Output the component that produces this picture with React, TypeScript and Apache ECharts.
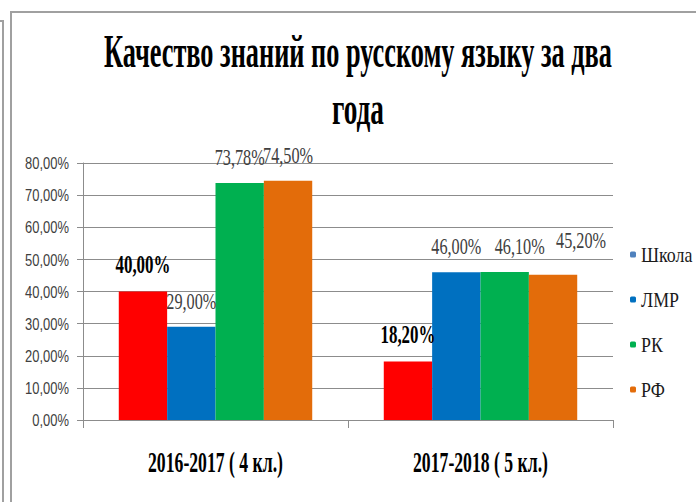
import React, { useEffect, useRef } from 'react';
import * as echarts from 'echarts';

const titleText = 'Качество знаний по русскому языку за два\nгода';
const categories = ['2016-2017 ( 4 кл.)', '2017-2018 ( 5 кл.)'];
const seriesNames = ['Школа', 'ЛМР', 'РК', 'РФ'];
const schoolValues = [0.4, 0.182];
const lmrValues = [0.29, 0.46];
const rkValues = [0.7378, 0.461];
const rfValues = [0.745, 0.452];
const yMin = 0;
const yMax = 0.8;
const yStep = 0.1;

const barColors = ['#FF0000', '#0070C0', '#00B050', '#E36C0A'];
const legendColors = ['#4F81BD', '#0070C0', '#00B050', '#E36C0A'];

const SERIF = '"Liberation Serif", "DejaVu Serif", serif';
const SANS = '"Liberation Sans", "DejaVu Sans", sans-serif';

const pct = (v: number) => (v * 100).toFixed(2).replace('.', ',') + '%';

// target widths (px) of texts in the reference, which uses very narrow type
const titleLines = titleText.split('\n');
const TITLE_W = [508, 52];
const CAT_W = 135;
const LEGEND_REF_W = 52; // width of 'Школа'
const DATA_REF_W = 50; // width of a regular label such as '73,78%'
const BOLD_REF_W = 55; // width of a bold label such as '40,00%'
const TICK_REF_W = 44; // width of '80,00%'

function condense(root: HTMLElement) {
  const els = Array.from(root.querySelectorAll('text')) as SVGTextElement[];
  const width = (el: SVGTextElement) => {
    try {
      return el.getBBox().width || 1;
    } catch (e) {
      return 1;
    }
  };
  const find = (pred: (el: SVGTextElement) => boolean) => els.find(pred);
  const isSans = (el: Element) => (el.getAttribute('style') || '').includes('Sans');
  const isBold = (el: Element) => (el.getAttribute('style') || '').includes('bold');
  const legendRef = find((e) => (e.textContent || '').trim() === 'Школа');
  const sLegend = legendRef ? LEGEND_REF_W / width(legendRef) : 1;
  const tickRef = find((e) => (e.textContent || '').trim() === '80,00%' && isSans(e));
  const sTick = tickRef ? TICK_REF_W / width(tickRef) : 1;
  const dataRef = find((e) => (e.textContent || '').trim() === '73,78%');
  const sData = dataRef ? DATA_REF_W / width(dataRef) : 1;
  const boldRef = find((e) => (e.textContent || '').trim() === '40,00%' && !isSans(e) && isBold(e));
  const sBold = boldRef ? BOLD_REF_W / width(boldRef) : 1;

  els.forEach((el) => {
    const txt = (el.textContent || '').trim();
    let s = 1;
    const ti = titleLines.indexOf(txt);
    if (ti >= 0) s = TITLE_W[ti] / width(el);
    else if (categories.includes(txt)) s = CAT_W / width(el);
    else if (seriesNames.includes(txt)) s = sLegend;
    else if (/%$/.test(txt)) s = isSans(el) ? sTick : isBold(el) ? sBold : sData;
    if (s === 1) return;
    const cur = el.getAttribute('transform') || '';
    if (el.getAttribute('data-done') === cur && cur !== '') return;
    const ox = parseFloat(el.getAttribute('x') || '0') || 0;
    const nt = `${cur} translate(${ox} 0) scale(${s} 1) translate(${-ox} 0)`.trim();
    el.setAttribute('transform', nt);
    el.setAttribute('data-done', nt);
  });
}

export default function App() {
  const ref = useRef<HTMLDivElement>(null);
  useEffect(() => {
    if (!ref.current) return;
    const chart = echarts.init(ref.current, null, { renderer: 'svg' });
    const values = [schoolValues, lmrValues, rkValues, rfValues];
    const labelOffsets: Record<string, number[]> = { '2-1': [15, 0], '3-1': [28, -9] };
    const series = seriesNames.map((name, si) => ({
      name,
      type: 'bar',
      barGap: '0%',
      barCategoryGap: '27%',
      itemStyle: { color: legendColors[si] },
      label: {
        show: true,
        position: 'top',
        distance: 14,
        formatter: (p: any) => pct(p.value),
        fontFamily: SERIF,
        fontSize: si === 0 ? 26 : 24,
        fontWeight: si === 0 ? 'bold' : 'normal',
        color: si === 0 ? '#000000' : '#404040',
      },
      data: values[si].map((v, i) => {
        const off = labelOffsets[`${si}-${i}`];
        return {
          value: v,
          itemStyle: { color: barColors[si] },
          ...(off ? { label: { offset: off } } : {}),
        };
      }),
    }));

    chart.setOption({
      animation: false,
      backgroundColor: '#ffffff',
      textStyle: { fontFamily: SERIF },
      title: {
        text: titleText,
        left: 358,
        top: 24,
        textAlign: 'center',
        padding: 0,
        textStyle: {
          fontFamily: SERIF,
          fontWeight: 'bold',
          fontSize: 46,
          lineHeight: 56,
          color: '#000000',
        },
      },
      legend: {
        orient: 'vertical',
        left: 630,
        top: 244,
        itemWidth: 6,
        itemHeight: 6,
        itemGap: 24,
        padding: 0,
        selectedMode: false,
        data: seriesNames.map((n, i) => ({ name: n, itemStyle: { color: legendColors[i] } })),
        textStyle: {
          fontFamily: SERIF,
          fontSize: 21,
          color: '#1a1a1a',
          lineHeight: 20,
        },
      },
      grid: { left: 83, right: 83, top: 163, bottom: 82, containLabel: false },
      xAxis: {
        type: 'category',
        data: categories,
        axisLine: { show: true, lineStyle: { color: '#8c8c8c', width: 1 } },
        axisTick: { show: true, length: 8, lineStyle: { color: '#8c8c8c' } },
        axisLabel: {
          interval: 0,
          hideOverlap: false,
          fontFamily: SERIF,
          fontWeight: 'bold',
          fontSize: 29,
          color: '#000000',
          margin: 28,
        },
      },
      yAxis: {
        type: 'value',
        min: yMin,
        max: yMax,
        interval: yStep,
        axisLine: { show: true, lineStyle: { color: '#8c8c8c', width: 1 } },
        axisTick: { show: true, length: 6, lineStyle: { color: '#8c8c8c' } },
        splitLine: { show: true, lineStyle: { color: '#8c8c8c', width: 1 } },
        axisLabel: {
          fontFamily: SANS,
          fontSize: 17,
          color: '#404040',
          margin: 14,
          formatter: (v: number) => pct(v),
        },
      },
      graphic: [
        {
          type: 'rect',
          silent: true,
          shape: { x: 11, y: 12, width: 720, height: 520 },
          style: { fill: 'none', stroke: '#a0a0a0', lineWidth: 2 },
        },
        {
          type: 'polyline',
          silent: true,
          shape: { points: [[0, 21], [3, 21], [3, 510]] },
          style: { fill: 'none', stroke: '#a0a0a0', lineWidth: 2 },
        },
      ],
      series,
    });
    const root = ref.current;
    condense(root);
    const onFinished = () => condense(root);
    chart.on('finished', onFinished);
    return () => {
      chart.off('finished', onFinished);
      chart.dispose();
    };
  }, []);
  return (
    <div
      ref={ref}
      style={{ position: 'fixed', left: 0, top: 0, width: 696, height: 502, background: '#fff' }}
    />
  );
}
